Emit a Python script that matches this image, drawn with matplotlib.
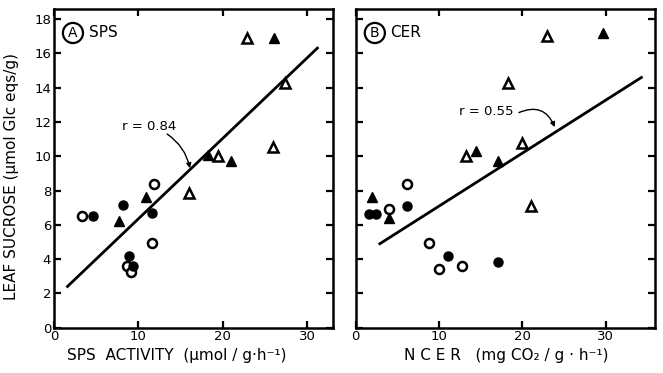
import numpy as np
import matplotlib
matplotlib.use('Agg')
import matplotlib.pyplot as plt

#%% data
# panel A: SPS activity vs leaf sucrose
sps_open_tri_x = [22.9, 27.4, 26.0, 19.45, 16.0]
sps_open_tri_y = [16.9, 14.3, 10.56, 10.03, 7.86]
sps_fill_tri_x = [26.1, 18.3, 21.0, 7.7, 10.9]
sps_fill_tri_y = [16.9, 10.1, 9.7, 6.2, 7.6]
sps_open_circ_x = [3.3, 11.9, 11.6, 8.7, 9.1]
sps_open_circ_y = [6.5, 8.4, 4.95, 3.6, 3.25]
sps_fill_circ_x = [4.6, 8.2, 11.6, 8.9, 9.4]
sps_fill_circ_y = [6.5, 7.15, 6.7, 4.2, 3.6]
sps_fit_range = [1.6, 31.2]
sps_slope, sps_icpt = 0.47, 1.65
sps_r = 'r = 0.84'

# panel B: NCER vs leaf sucrose
cer_open_tri_x = [23.0, 18.3, 20.0, 13.3, 21.1]
cer_open_tri_y = [17.0, 14.3, 10.8, 10.0, 7.1]
cer_fill_tri_x = [29.7, 14.5, 17.1, 1.95, 4.0]
cer_fill_tri_y = [17.2, 10.3, 9.7, 7.6, 6.4]
cer_open_circ_x = [4.0, 6.1, 8.75, 9.95, 12.8]
cer_open_circ_y = [6.9, 8.4, 4.95, 3.4, 3.6]
cer_fill_circ_x = [1.6, 2.4, 6.1, 11.1, 17.1]
cer_fill_circ_y = [6.65, 6.65, 7.1, 4.2, 3.8]
cer_fit_range = [2.9, 34.3]
cer_slope, cer_icpt = 0.309, 4.0
cer_r = 'r = 0.55'

yticks = [0, 2, 4, 6, 8, 10, 12, 14, 16, 18]
xticks = [0, 10, 20, 30]

#%% figure
plt.rcParams['font.family'] = ['DejaVu Sans']
fig = plt.figure(figsize=(6.63, 3.73), dpi=100)
axA = fig.add_axes([0.0814, 0.1217, 0.421, 0.853])
axB = fig.add_axes([0.5365, 0.1217, 0.451, 0.853])

def draw_panel(ax, ot_x, ot_y, ft_x, ft_y, oc_x, oc_y, fc_x, fc_y, fit_rng, slope, icpt, xmax):
    ms = 6.5
    ax.plot(ot_x, ot_y, '^', ms=ms, mfc='white', mec='black', mew=1.8, ls='none', zorder=3)
    ax.plot(ft_x, ft_y, '^', ms=ms, mfc='black', mec='black', mew=1.0, ls='none', zorder=3)
    ax.plot(oc_x, oc_y, 'o', ms=ms, mfc='white', mec='black', mew=1.8, ls='none', zorder=3)
    ax.plot(fc_x, fc_y, 'o', ms=ms, mfc='black', mec='black', mew=1.0, ls='none', zorder=3)
    fx = np.array(fit_rng)
    ax.plot(fx, slope*fx + icpt, color='black', lw=2.0, zorder=2)
    ax.set_xlim(0, xmax)
    ax.set_ylim(0, 18.57)
    ax.set_xticks(xticks)
    ax.set_yticks(yticks)
    ax.tick_params(direction='in', length=5, width=1.6, top=True, right=True,
                   labelsize=9.5, pad=2)
    for s in ax.spines.values():
        s.set_linewidth(1.8)

draw_panel(axA, sps_open_tri_x, sps_open_tri_y, sps_fill_tri_x, sps_fill_tri_y,
           sps_open_circ_x, sps_open_circ_y, sps_fill_circ_x, sps_fill_circ_y,
           sps_fit_range, sps_slope, sps_icpt, 33.06)
draw_panel(axB, cer_open_tri_x, cer_open_tri_y, cer_fill_tri_x, cer_fill_tri_y,
           cer_open_circ_x, cer_open_circ_y, cer_fill_circ_x, cer_fill_circ_y,
           cer_fit_range, cer_slope, cer_icpt, 35.9)
axB.set_yticklabels([])

# panel letters
for ax, letter, name, xl, xn in [(axA, 'A', 'SPS', 0.068, 0.178), (axB, 'B', 'CER', 0.064, 0.166)]:
    ax.text(xl, 0.926, letter, transform=ax.transAxes, fontsize=10, ha='center', va='center',
            bbox=dict(boxstyle='circle,pad=0.22', fc='white', ec='black', lw=1.6))
    ax.text(xn, 0.926, name, transform=ax.transAxes, fontsize=11, ha='center', va='center')

# r annotations
axA.text(11.3, 11.75, sps_r, fontsize=9.5, ha='center', va='center')
axA.annotate('', xy=(16.1, 9.3), xytext=(13.4, 11.3),
             arrowprops=dict(arrowstyle='-|>', color='black', lw=1.0, mutation_scale=7,
                             shrinkA=0, shrinkB=0, connectionstyle='arc3,rad=-0.2'))
axB.text(15.7, 12.6, cer_r, fontsize=9.5, ha='center', va='center')
axB.annotate('', xy=(23.9, 11.7), xytext=(19.6, 12.55),
             arrowprops=dict(arrowstyle='-|>', color='black', lw=1.0, mutation_scale=7,
                             shrinkA=0, shrinkB=0, connectionstyle='arc3,rad=-0.5'))

axA.set_xlabel('SPS  ACTIVITY  (\u03bcmol / g\u00b7h\u207b\u00b9)', fontsize=11)
axB.set_xlabel('N C E R   (mg CO\u2082 / g \u00b7 h\u207b\u00b9)', fontsize=11)
axA.set_ylabel('LEAF SUCROSE (\u03bcmol Glc eqs/g)', fontsize=11)
axA.xaxis.set_label_coords(0.44, -0.065)
axB.xaxis.set_label_coords(0.504, -0.065)
axA.yaxis.set_label_coords(-0.125, 0.475)

fig.savefig('out.png', dpi=100)
